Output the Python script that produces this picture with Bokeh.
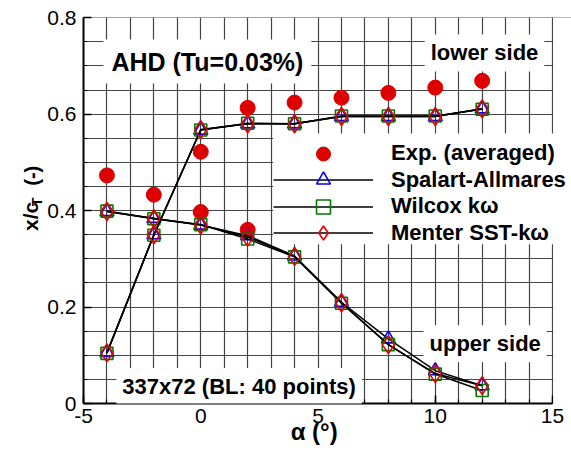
import numpy as np
from bokeh.plotting import figure
from bokeh.layouts import row
from bokeh.models import (Range1d, SingleIntervalTicker, Label,
                          Legend, LegendItem, BoxAnnotation)
from bokeh.core.properties import value
from bokeh.embed import file_html
from bokeh.resources import INLINE

# ---------------- data ----------------
alpha = [-4, -2, 0, 2, 4, 6, 8, 10, 12]
sa_lower = [0.106, 0.350, 0.567, 0.580, 0.580, 0.595, 0.595, 0.595, 0.611]
sa_upper = [0.398, 0.384, 0.370, 0.348, 0.306, 0.210, 0.134, 0.068, 0.037]
wk_lower = [0.104, 0.349, 0.567, 0.581, 0.580, 0.596, 0.596, 0.596, 0.610]
wk_upper = [0.399, 0.383, 0.371, 0.341, 0.304, 0.208, 0.122, 0.061, 0.027]
sst_lower = [0.105, 0.350, 0.568, 0.580, 0.580, 0.595, 0.595, 0.595, 0.611]
sst_upper = [0.398, 0.383, 0.370, 0.345, 0.305, 0.209, 0.122, 0.062, 0.037]

exp_alpha = [-4, -2, 0, 0, 2, 2, 4, 6, 8, 10, 12]
exp_xc = [0.473, 0.433, 0.522, 0.397, 0.613, 0.360, 0.624, 0.634, 0.644, 0.655, 0.669]

labels = ["Exp. (averaged)", "Spalart-Allmares", "Wilcox k\u03c9", "Menter SST-k\u03c9"]
x_tick_labels = {-5: "-5", 0: "0", 5: "5", 10: "10", 15: "15"}
y_tick_labels = {0: "0", 0.2: "0.2", 0.4: "0.4", 0.6: "0.6", 0.8: "0.8"}

FONT = "Liberation Sans"
PX_X = 23.5     # pixels per degree
LEFT_W = 44     # width of the strip holding the y title

# ---------------- main plot ----------------
p = figure(width=571 - LEFT_W, height=452,
           x_range=Range1d(-5, 15 + 19 / PX_X), y_range=Range1d(0, 0.8004),
           output_backend="svg", toolbar_location=None,
           min_border_left=82 - LEFT_W, min_border_right=0,
           min_border_top=17, min_border_bottom=49)
p.background_fill_color = "white"
p.border_fill_color = "white"
p.outline_line_color = None

# grid
p.xgrid.ticker = SingleIntervalTicker(interval=1)
p.ygrid.ticker = SingleIntervalTicker(interval=0.05)
for g in (p.xgrid, p.ygrid):
    g.grid_line_color = "#444444"
    g.grid_line_width = 1.2
    g.grid_line_alpha = 1

# axes
p.xaxis.ticker = SingleIntervalTicker(interval=5, num_minor_ticks=5)
p.xaxis.major_label_overrides = x_tick_labels
p.xaxis.bounds = (-5, 15)
p.yaxis.ticker = SingleIntervalTicker(interval=0.2, num_minor_ticks=4)
p.yaxis.major_label_overrides = y_tick_labels
p.yaxis.bounds = (0, 0.8)
for ax in (p.xaxis, p.yaxis):
    ax.axis_line_color = "black"
    ax.axis_line_width = 2
    ax.major_tick_in = 8
    ax.major_tick_out = 0
    ax.minor_tick_in = 4
    ax.minor_tick_out = 0
    ax.major_tick_line_color = "black"
    ax.minor_tick_line_color = "black"
    ax.major_tick_line_width = 1.5
    ax.minor_tick_line_width = 1.2
    ax.major_label_text_font = FONT
    ax.major_label_text_font_size = "21px"
    ax.major_label_text_color = "black"
p.xaxis.major_label_standoff = 5
p.yaxis.major_label_standoff = 7

# the frame extends past x = 15, so pad the title on the right to centre it on -5..15
p.xaxis.axis_label = "\u03b1 (\u00b0)" + "\u00a0" * 4
p.xaxis.axis_label_text_font = FONT
p.xaxis.axis_label_text_font_size = "24px"
p.xaxis.axis_label_text_font_style = "bold"
p.xaxis.axis_label_text_color = "black"
p.xaxis.axis_label_standoff = -8

# white area right of x = 15 (frame is extended so the legend fits)
p.add_layout(BoxAnnotation(left=15.03, fill_color="white", fill_alpha=1,
                           line_color=None))

# experimental
r_exp = p.scatter(exp_alpha, exp_xc, marker="circle", size=15,
                  fill_color="#dc0000", line_color="#dc0000")

# models
def model(lower, upper, marker, color, size):
    rl = p.line(alpha, lower, line_color="black", line_width=1.5)
    p.line(alpha, upper, line_color="black", line_width=1.5)
    xs = alpha + alpha
    ys = list(lower) + list(upper)
    rs = p.scatter(xs, ys, marker=marker, size=size,
                   fill_color=None, line_color=color, line_width=1.6)
    return rl, rs

sa = model(sa_lower, sa_upper, "triangle", "#0000ff", 14)
wk = model(wk_lower, wk_upper, "square", "#007a00", 12)
sst = model(sst_lower, sst_upper, "diamond", "#ee0000", 18)

# legend: white box, then one legend per entry (rows closer than glyph height)
p.add_layout(BoxAnnotation(left=3.08, bottom=0.33, top=0.56,
                           fill_color="white", fill_alpha=1, line_color=None))
entries = [(labels[0], [r_exp], 153.0), (labels[1], list(sa), 179.5),
           (labels[2], list(wk), 206.0), (labels[3], list(sst), 232.5)]
GH = 35
for lab, rends, yc in reversed(entries):
    lg = Legend(items=[LegendItem(label=lab, renderers=rends)],
                location=(190, 403 - (yc + GH / 2)))
    lg.background_fill_alpha = 0
    lg.border_line_alpha = 0
    lg.glyph_width = 100
    lg.glyph_height = GH
    lg.label_standoff = 18
    lg.label_text_font = FONT
    lg.label_text_font_size = "22px"
    lg.label_text_font_style = "bold"
    lg.label_text_color = "black"
    lg.padding = 0
    lg.margin = 0
    lg.spacing = 0
    p.add_layout(lg, "center")

# text annotations in the plot
def txt(x, y, s, size, pad=5):
    p.add_layout(Label(x=x, y=y, text=s, text_font=FONT, text_font_size=size,
                       text_font_style="bold", text_color="black",
                       text_align="left", text_baseline="alphabetic",
                       background_fill_color="white", padding=pad))

txt(-4.15, 0.709, "AHD (Tu=0.03%)", "25px", pad=8)
txt(9.55, 0.727, "lower side", "22px", pad=6)
txt(9.5, 0.124, "upper side", "22px", pad=6)
txt(-3.6, 0.035, "337x72 (BL: 40 points)", "22px", pad=6)

# ---------------- y title strip ----------------
q = figure(width=LEFT_W, height=452, x_range=Range1d(0, LEFT_W), y_range=Range1d(0, 452),
           x_axis_type=None, y_axis_type=None, output_backend="svg",
           toolbar_location=None, min_border=0)
q.outline_line_color = None
q.xgrid.visible = False
q.ygrid.visible = False
ytitle_text = ["x/c", "T", "(-)"]
ytitle_x = [30, 36, 31]
ytitle_y = [452 - 250, 452 - 221, 452 - 197]
ytitle_size = ["21px", "14px", "20px"]
q.text(x=ytitle_x, y=ytitle_y, text=ytitle_text, angle=np.pi / 2,
       text_font=value(FONT), text_font_size=ytitle_size, text_font_style="bold",
       text_color="black", text_align="left", text_baseline="alphabetic")

layout = row(q, p, spacing=0)
open("out.html", "w").write(file_html(layout, INLINE))
